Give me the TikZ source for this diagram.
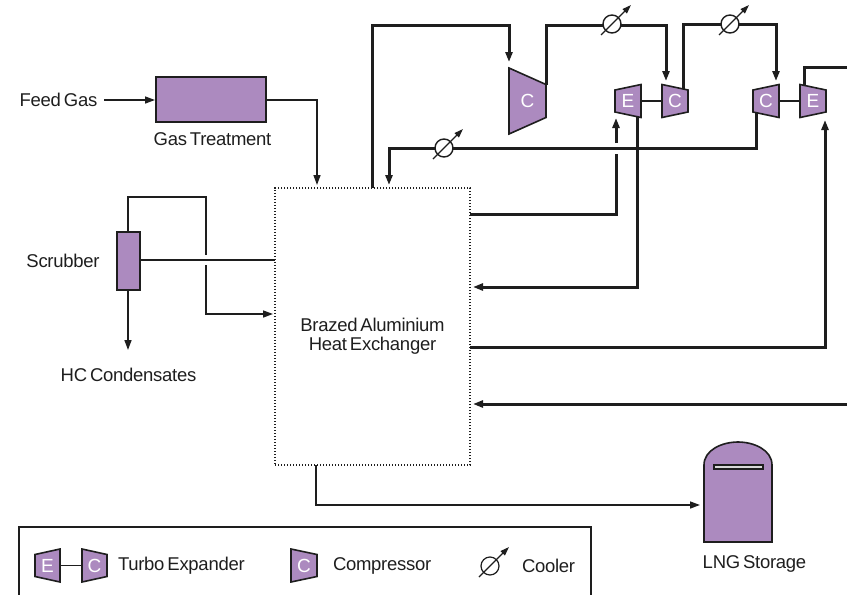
\documentclass[tikz,border=0pt]{standalone}
\usepackage{fontspec}
\setmainfont[LetterSpace=-1.5,WordSpace=0.6]{Liberation Sans}
\usetikzlibrary{arrows.meta,calc}
\definecolor{lilac}{HTML}{AC8ABF}
\definecolor{ink}{HTML}{1E1E1E}
\tikzset{
  x=1pt,y=-1pt,
  every node/.style={font=\fontsize{18.5}{18.5}\selectfont,text=ink,inner sep=0pt,outer sep=0pt},
  thinline/.style={draw=ink,line width=1.5pt},
  thickline/.style={draw=ink,line width=3pt},
  flowtip/.style={-{Triangle[length=10pt,width=7pt]}},
  equip/.style={draw=ink,line width=1.6pt,fill=lilac},
  equiplabel/.style={font=\fontsize{19}{19}\selectfont,text=white},
  cooler/.style={circle,draw=ink,line width=1.4pt,fill=white,minimum size=18pt},
  legendcooler/.style={circle,draw=ink,line width=1.2pt,minimum size=18pt},
  coolerarrow/.style={draw=ink,line width=1.3pt,-{Triangle[length=9pt,width=6pt]}},
}
% name, left x, right x, centre y, half height left, half height right, letter
\newcommand{\trapeq}[7]{%
  \draw[equip] (#2,#4-#5) -- (#3,#4-#6) -- (#3,#4+#6) -- (#2,#4+#5) -- cycle;
  \node[equiplabel] (#1) at ({(#2+#3)/2},#4) {#7};
}
\begin{document}
\begin{tikzpicture}
\useasboundingbox (0,0) rectangle (847,595);

% ---- equipment
\node[draw=ink,line width=1.6pt,fill=lilac,minimum width=110pt,minimum height=45pt] (gt) at (211,99.5) {};
\node[draw=ink,line width=1.6pt,fill=lilac,minimum width=23pt,minimum height=58pt] (sc) at (128.5,261) {};
\node[draw=ink,line width=1.2pt,dash pattern=on 1.3pt off 1.7pt,minimum width=195pt,minimum height=277pt] (hx) at (372.5,326.5) {};
\node[align=center,font=\fontsize{18.5}{18.5}\selectfont] (hxl) at (372.5,336) {Brazed Aluminium\\Heat Exchanger};

\trapeq{cbig}{509}{546}{101}{33}{16.5}{C}
\trapeq{e1}{615}{641}{101}{11}{16.5}{E}
\trapeq{c1}{662}{688}{101}{16.5}{11}{C}
\trapeq{c2}{753}{779}{101}{11}{16.5}{C}
\trapeq{e2}{800}{826}{101}{16.5}{11}{E}
\draw[thinline] (641,101) -- (662,101);
\draw[thinline] (779,101) -- (800,101);

% tank
\path[equip] (704,542) -- (704,465) .. controls (704,450) and (722,442) .. (738,442) .. controls (754,442) and (772,450) .. (772,465) -- (772,542) -- cycle;
\node[draw=ink,line width=1.2pt,fill=black!15,minimum width=49pt,minimum height=4pt] (slit) at (738.5,467) {};

% ---- labels
\node (feed) at (58.5,99.5) {Feed Gas};
\node (gtl) at (212.5,139.5) {Gas Treatment};
\node (scl) at (63,261) {Scrubber};
\node (hcl) at (128.5,375) {HC Condensates};
\node (lngl) at (754.5,564) {LNG Storage};

% ---- thin connectors
\coordinate (feedend) at (155,100);
\draw[thinline,flowtip] (104,100) -- (feedend);
\coordinate (gtcorner) at (317,100);
\coordinate (gttip) at (317,185);
\draw[thinline,flowtip] (gt.east |- gtcorner) -- (gtcorner) -- (gttip);
\coordinate (sca) at (128,197);
\coordinate (scb) at (206,197);
\coordinate (scgap1) at (206,255);
\coordinate (scgap2) at (206,265);
\coordinate (scc) at (206,314);
\coordinate (sctip) at (273,314);
\draw[thinline] (sc.north -| sca) -- (sca) -- (scb) -- (scgap1);
\draw[thinline,flowtip] (scgap2) -- (scc) -- (sctip);
\coordinate (scmid) at (275,260);
\draw[thinline] (sc.east |- scmid) -- (scmid);
\coordinate (hctip) at (128,350);
\draw[thinline,flowtip] (sc.south -| hctip) -- (hctip);
\coordinate (lnga) at (316,505);
\coordinate (lngtip) at (700,505);
\draw[thinline,flowtip] (hx.south -| lnga) -- (lnga) -- (lngtip);

% ---- thick connectors
\coordinate (t1) at (372,25);
\coordinate (t2) at (509,25);
\coordinate (t3) at (509,62);
\draw[thickline,flowtip] (hx.north -| t1) -- (t1) -- (t2) -- (t3);

\coordinate (u1) at (546,85);
\coordinate (u2) at (546,25);
\coordinate (u3) at (666,25);
\coordinate (u4) at (666,81);
\draw[thickline,flowtip] (u1) -- (u2) -- (u3) -- (u4);

\coordinate (v1) at (683,89);
\coordinate (v2) at (683,24);
\coordinate (v3) at (776,24);
\coordinate (v4) at (776,81);
\draw[thickline,flowtip] (v1) -- (v2) -- (v3) -- (v4);

\coordinate (w1) at (804,86);
\coordinate (w2) at (804,67);
\coordinate (w3) at (848,67);
\draw[thickline] (w1) -- (w2) -- (w3);

\coordinate (a1) at (756,113);
\coordinate (a2) at (756,148);
\coordinate (a3) at (389,148);
\coordinate (a4) at (389,185);
\draw[thickline,flowtip] (a1) -- (a2) -- (a3) -- (a4);

\coordinate (b1) at (616,214);
\coordinate (bgap1) at (616,154);
\coordinate (bgap2) at (616,143);
\coordinate (b2) at (616,118);
\draw[thickline] (hx.east |- b1) -- (b1) -- (bgap1);
\draw[thickline,flowtip] (bgap2) -- (b2);

\coordinate (d1) at (637,117);
\coordinate (d2) at (637,287);
\coordinate (d3) at (473,287);
\draw[thickline,flowtip] (d1) -- (d2) -- (d3);

\coordinate (f1) at (825,347);
\coordinate (f2) at (825,120);
\draw[thickline,flowtip] (hx.east |- f1) -- (f1) -- (f2);

\coordinate (g1) at (848,404);
\coordinate (g2) at (473,404);
\draw[thickline,flowtip] (g1) -- (g2);

% ---- coolers
\node[cooler] (k1) at (612,24) {};
\node[cooler] (k2) at (730,24) {};
\node[cooler] (k3) at (444,148) {};
\foreach \k in {k1,k2,k3}{
  \draw[coolerarrow] ($(\k)+(-11,11)$) -- ($(\k)+(19,-19)$);
}

% ---- legend
\coordinate (lega) at (19,597);
\coordinate (legb) at (19,527);
\coordinate (legc) at (591,527);
\coordinate (legd) at (591,597);
\draw[draw=ink,line width=1.2pt] (lega) -- (legb) -- (legc) -- (legd);
\trapeq{le}{35}{60}{565.5}{11}{16.5}{E}
\trapeq{lc}{82}{107}{565.5}{16.5}{11}{C}
\draw[thinline] (60,565.5) -- (82,565.5);
\node[anchor=west] (lt1) at (118,566) {Turbo Expander};
\trapeq{lc2}{291}{317}{565.5}{16.5}{11}{C}
\node[anchor=west] (lt2) at (333,566) {Compressor};
\node[legendcooler] (lk) at (490,566) {};
\draw[coolerarrow] ($(lk)+(-11,11)$) -- ($(lk)+(19,-19)$);
\node[anchor=west] (lt3) at (522,566) {Cooler};
\end{tikzpicture}
\end{document}
